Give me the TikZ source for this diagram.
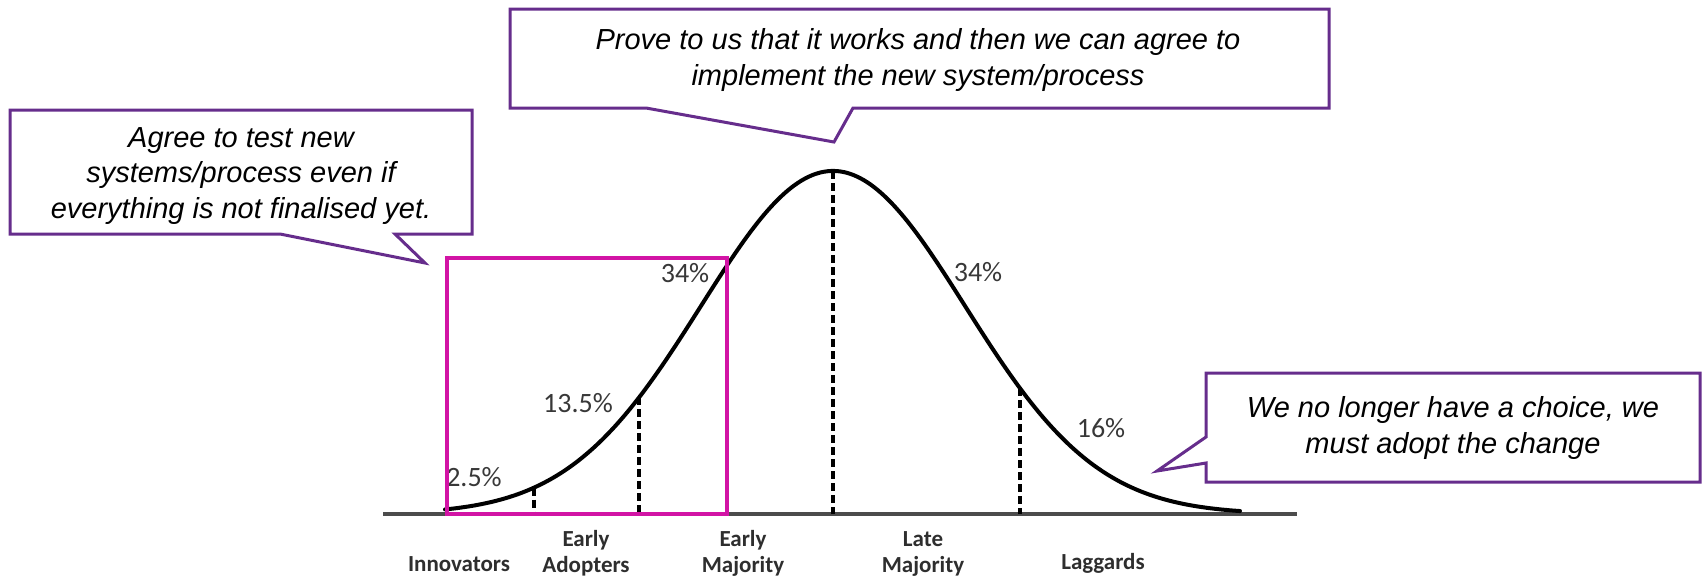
\documentclass[tikz,border=0pt]{standalone}
\usepackage{fontspec}
\setmainfont{Liberation Sans}
\newfontfamily\chartfont{Carlito}
\definecolor{calloutpurple}{RGB}{102,45,140}
\definecolor{focusmagenta}{RGB}{210,20,165}
\begin{document}
\begin{tikzpicture}[x=1pt,y=-1pt,
  declare function={bell(\t)=514-343*exp(-0.5*((\t-833)/132)*((\t-833)/132));},
  callout/.style={draw=calloutpurple, line width=3pt, fill=white, line join=miter},
  callouttext/.style={align=center, font=\fontsize{29}{35.5}\selectfont\itshape, inner sep=0pt},
  pct/.style={font=\chartfont\fontsize{28}{30}\selectfont, text=black!78, inner sep=0pt},
  group/.style={align=center, font=\chartfont\bfseries\fontsize{23}{26}\selectfont, text=black!82, inner sep=0pt},
  divider/.style={line width=3.4pt, dash pattern=on 8pt off 4pt},
  bellcurve/.style={line width=4pt, line join=round, line cap=round},
]
\useasboundingbox (0,0) rectangle (1703,579);

% horizontal axis
\coordinate (axisL) at (383,514);
\coordinate (axisR) at (1297,514);
\draw[line width=4pt, black!70] (axisL) -- (axisR);

% adoption bell curve
\draw[bellcurve] plot[domain=445:1240, samples=240] (\x, {bell(\x)});

% dashed group boundaries
\foreach \n/\xx in {a/534, b/639, c/833, d/1020} {
  \coordinate (top\n) at (\xx, {bell(\xx)});
  \coordinate (base\n) at (\xx, 514);
  \draw[divider] (top\n) -- (base\n);
}

% percentages
\node[pct] (p25)  at (474,477) {2.5\%};
\node[pct] (p135) at (578,403) {13.5\%};
\node[pct] (p34a) at (685,273) {34\%};
\node[pct] (p34b) at (978,272) {34\%};
\node[pct] (p16)  at (1101,428) {16\%};

% adopter groups
\node[group] (innov)   at (459,564) {Innovators};
\node[group] (early)   at (586,553) {Early\\Adopters};
\node[group] (earlym)  at (743,553) {Early\\Majority};
\node[group] (latem)   at (923,554) {Late\\Majority};
\node[group] (lagg)    at (1103,563) {Laggards};

% highlighted region
\draw[draw=focusmagenta, line width=3.2pt] (447,258) rectangle (727,514);

% callouts
\draw[callout] (10,110) -- (472,110) -- (472,234) -- (395,234) -- (425,263)
  -- (280,234) -- (10,234) -- cycle;
\node[callouttext] (c1) at (241,176) {Agree to test new\\systems/process even if\\everything is not finalised yet.};

\draw[callout] (510,9) -- (1329,9) -- (1329,108) -- (853,108) -- (834,142)
  -- (646,108) -- (510,108) -- cycle;
\node[callouttext] (c2) at (918,60) {Prove to us that it works and then we can agree to\\implement the new system/process};

\draw[callout] (1206,373) -- (1700,373) -- (1700,482) -- (1206,482) -- (1206,463)
  -- (1157,471) -- (1206,437) -- cycle;
\node[callouttext] (c3) at (1453,428) {We no longer have a choice, we\\must adopt the change};
\end{tikzpicture}
\end{document}
